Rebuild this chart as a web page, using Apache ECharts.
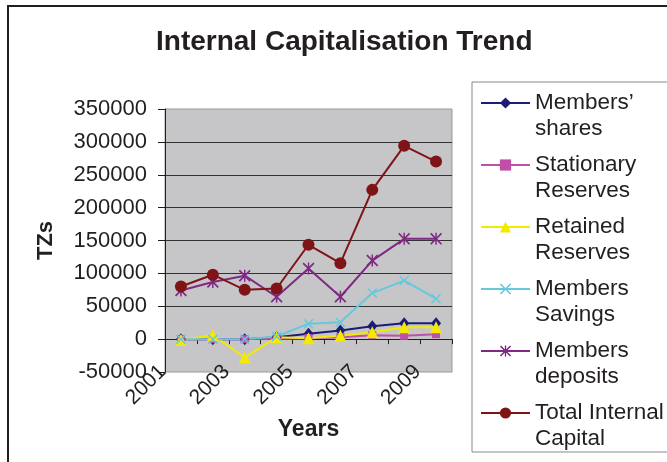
<!DOCTYPE html>
<html>
<head>
<meta charset="utf-8">
<script src="https://cdn.jsdelivr.net/npm/echarts@6/dist/echarts.min.js"></script>
<style>
  html, body { margin: 0; padding: 0; background: #fff; }
  #chart { width: 667px; height: 462px; }
</style>
</head>
<body>
<div id="chart"></div>
<script>
var years = ["2001", "2002", "2003", "2004", "2005", "2006", "2007", "2008", "2009"];
var membersShares = [0, 0, 0, 3000, 8000, 13000, 19500, 24000, 24000];
var stationaryReserves = [0, 0, 0, 500, 1500, 3000, 6000, 5000, 7500];
var retainedReserves = [-1500, 6000, -28000, 3000, 1500, 5000, 10500, 18000, 18000];
var membersSavings = [0, 0, 0, 4000, 23500, 25500, 70000, 89000, 61500];
var membersDeposits = [74000, 87000, 96500, 64500, 107500, 64500, 119500, 152500, 152500];
var totalCapital = [80000, 98000, 75000, 77000, 143500, 115500, 227000, 294000, 270000];

// legend text, wrapped like the original (leading blank line keeps the icon on line 1)
var legendNames = {
  "Members' shares": "\nMembers’\nshares",
  "Stationary Reserves": "\nStationary\nReserves",
  "Retained Reserves": "\nRetained\nReserves",
  "Members Savings": "\nMembers\nSavings",
  "Members deposits": "\nMembers\ndeposits",
  "Total Internal Capital": "\nTotal Internal\nCapital"
};

// thin X and asterisk markers like Excel's
var xPath = "path://M0,1 L1,0 L5,4 L9,0 L10,1 L6,5 L10,9 L9,10 L5,6 L1,10 L0,9 L4,5 Z";
var starPath = "path://M0,1 L1,0 L5,4 L9,0 L10,1 L6,5 L10,9 L9,10 L5,6 L1,10 L0,9 L4,5 Z M4.4,0 L5.6,0 L5.6,10 L4.4,10 Z";

var font = "'Liberation Sans', Arial, sans-serif";
var ink = "#231f20";

function line(name, data, color, symbol, size) {
  return {
    name: name,
    type: "line",
    data: data,
    xAxisIndex: 0,
    symbol: symbol,
    symbolSize: size,
    showAllSymbol: true,
    lineStyle: { color: color, width: 2 },
    itemStyle: { color: color },
    emphasis: { disabled: true }
  };
}

var chart = echarts.init(document.getElementById("chart"));
var option = {
  animation: false,
  textStyle: { fontFamily: font, color: ink },
  title: {
    text: "Internal Capitalisation Trend",
    left: 151,
    top: 23,
    textStyle: { fontFamily: font, fontSize: 28, fontWeight: "bold", color: ink }
  },
  graphic: [
    { type: "rect", shape: { x: 8, y: 6, width: 700, height: 500 },
      style: { fill: "none", stroke: ink, lineWidth: 2 }, silent: true },
    { type: "rect", shape: { x: 472, y: 82, width: 230, height: 370 },
      style: { fill: "#fff", stroke: "#888", lineWidth: 1 }, silent: true, z: -1 }
  ],
  legend: {
    orient: "vertical",
    left: 480,
    top: 64,
    padding: 0,
    itemWidth: 49,
    itemHeight: 14,
    itemGap: -16,
    formatter: function (n) { return legendNames[n]; },
    textStyle: { fontFamily: font, fontSize: 22.5, color: ink, lineHeight: 26 }
  },
  grid: {
    left: 165, right: 215, top: 109, bottom: 90,
    show: true, backgroundColor: "#c6c6c8", borderColor: "#999", borderWidth: 1,
    outerBoundsMode: "none"
  },
  xAxis: [
    {
      type: "category",
      data: years,
      position: "bottom",
      axisLine: { show: false, onZero: false },
      axisTick: { show: false },
      axisLabel: {
        interval: 1, rotate: 45, fontSize: 21, color: ink, fontFamily: font,
        margin: -22, padding: [0, 26, 0, 0]
      },
      name: "Years",
      nameLocation: "middle",
      nameGap: 46,
      nameTextStyle: { fontFamily: font, fontSize: 23, fontWeight: "bold", color: ink, verticalAlign: "top" }
    },
    {
      type: "category",
      data: years,
      position: "bottom",
      axisLine: { show: true, onZero: true, lineStyle: { color: ink, width: 1 } },
      axisTick: { show: true, interval: 0, length: 5, lineStyle: { color: ink } },
      axisLabel: { show: false }
    }
  ],
  yAxis: {
    type: "value",
    min: -50000,
    max: 350000,
    interval: 50000,
    axisLine: { show: true, lineStyle: { color: ink, width: 1 } },
    axisTick: { show: true, length: 7, lineStyle: { color: ink } },
    axisLabel: {
      fontSize: 22, color: ink, fontFamily: font, margin: 18,
      formatter: function (v) { return String(v); }
    },
    splitLine: { show: true, showMinLine: false, showMaxLine: false, lineStyle: { color: "#333", width: 1 } },
    name: "TZs",
    nameLocation: "middle",
    nameGap: 108,
    nameTextStyle: { fontFamily: font, fontSize: 22, fontWeight: "bold", color: ink }
  },
  series: [
    line("Members' shares", membersShares, "#1c1c78", "diamond", [10, 12]),
    line("Stationary Reserves", stationaryReserves, "#c04fa8", "rect", 8),
    line("Retained Reserves", retainedReserves, "#f2ea00", "triangle", 12),
    line("Members Savings", membersSavings, "#66c8dc", xPath, 10),
    line("Members deposits", membersDeposits, "#7e2a82", starPath, 12),
    line("Total Internal Capital", totalCapital, "#7f1416", "circle", 12)
  ]
};
chart.setOption(option);
window.addEventListener("resize", function () {
  chart.resize();
});
</script>
</body>
</html>
